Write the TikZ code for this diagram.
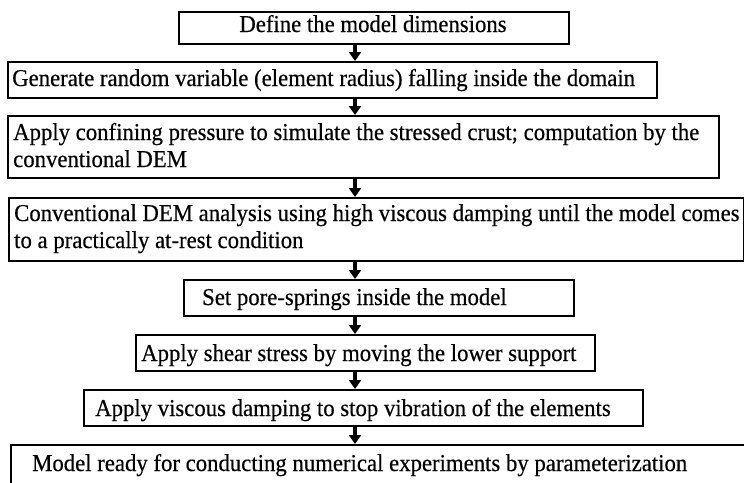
\documentclass[tikz,border=0pt]{standalone}
\usepackage{fontspec}
\setmainfont[FakeStretch=0.94,FakeBold=0.4]{Liberation Serif}
\usetikzlibrary{arrows.meta}
\begin{document}
\begin{tikzpicture}[x=1pt,y=-1pt,
  box/.style={draw, line width=1.6pt, inner sep=0pt, anchor=north west},
  txt/.style={anchor=base west, inner sep=0pt, font=\fontsize{24.2}{29}\selectfont},
  arr/.style={line width=3.2pt, -{Triangle[width=12pt,length=9pt]}}]
\useasboundingbox (0,0) rectangle (744,482);
\clip (0,0) rectangle (744,482);
\fill[white] (0,0) rectangle (744,482);
% boxes
\node[box, minimum width=390pt, minimum height=32pt] (b1) at (178,11) {};
\node[box, minimum width=649pt, minimum height=36pt] (b2) at (7,61) {};
\node[box, minimum width=711pt, minimum height=62pt] (b3) at (7,115) {};
\node[box, minimum width=735pt, minimum height=63pt] (b4) at (8,197) {};
\node[box, minimum width=390pt, minimum height=36pt] (b5) at (183,279) {};
\node[box, minimum width=459pt, minimum height=36pt] (b6) at (135,334) {};
\node[box, minimum width=559pt, minimum height=36pt] (b7) at (83,389) {};
\node[box, minimum width=800pt, minimum height=100pt] (b8) at (10,444) {};
% texts
\node[txt, anchor=base] (t1) at (373,32) {Define the model dimensions};
\node[txt] (t2) at (12,86) {Generate random variable (element radius) falling inside the domain};
\node[txt] (t3a) at (13,140) {Apply confining pressure to simulate the stressed crust; computation by the};
\node[txt] (t3b) at (13,167) {conventional DEM};
\node[txt] (t4a) at (14,221) {Conventional DEM analysis using high viscous damping until the model comes};
\node[txt] (t4b) at (14,248) {to a practically at-rest condition};
\node[txt] (t5) at (202,305) {Set pore-springs inside the model};
\node[txt] (t6) at (141,361) {Apply shear stress by moving the lower support};
\node[txt] (t7) at (95,416) {Apply viscous damping to stop vibration of the elements};
\node[txt] (t8) at (32,471) {Model ready for conducting numerical experiments by parameterization};
% arrows
\coordinate (ax) at (355,0);
\draw[arr] (b1.south -| ax) -- (b2.north -| ax);
\draw[arr] (b2.south -| ax) -- (b3.north -| ax);
\draw[arr] (b3.south -| ax) -- (b4.north -| ax);
\draw[arr] (b4.south -| ax) -- (b5.north -| ax);
\draw[arr] (b5.south -| ax) -- (b6.north -| ax);
\draw[arr] (b6.south -| ax) -- (b7.north -| ax);
\draw[arr] (b7.south -| ax) -- (b8.north -| ax);
\end{tikzpicture}
\end{document}
